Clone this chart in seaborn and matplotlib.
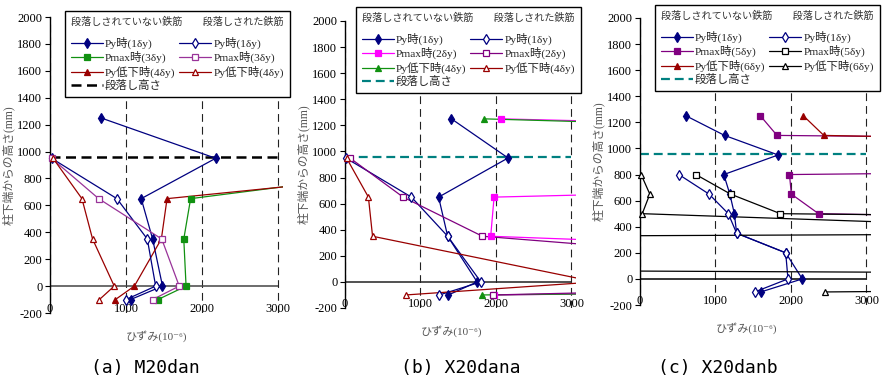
import numpy as np
import pandas as pd
import matplotlib
matplotlib.use('Agg')
import matplotlib.pyplot as plt
from matplotlib.lines import Line2D
import seaborn as sns

sns.set_theme(style='white')
FAM = ['Liberation Serif', 'Noto Sans CJK JP', 'DejaVu Sans']
plt.rcParams['font.family'] = FAM
plt.rcParams['axes.unicode_minus'] = False

nan = np.nan
# ---------------- data ----------------
heights_ab = [1250, 950, 650, 350, 0, -100]
heights_c = [1250, 1100, 950, 800, 650, 500, 350, 200, 0, -100]
dan_height = 960

# (a) M20dan
a_py_solid = [670, 2180, 1200, 1350, 1480, 1060]
a_pmax_solid = [nan, 6000, 1850, 1760, 1790, 1420]
a_low_solid = [nan, 6800, 1540, 1465, 1110, 860]
a_py_cut = [nan, 20, 880, 1280, 1390, 1000]
a_pmax_cut = [nan, 20, 640, 1470, 1700, 1350]
a_low_cut = [nan, 40, 420, 560, 845, 650]

# (b) X20dana
b_py_solid = [1410, 2160, 1240, 1360, 1750, 1370]
b_pmax_solid = [2060, 23500, 1975, 1930, 18400, 1970]
b_low_solid = [1840, 20000, nan, nan, 20000, 1810]
b_py_cut = [nan, 10, 880, 1360, 1800, 1250]
b_pmax_cut = [nan, 65, 770, 1820, 9400, 1960]
b_low_cut = [nan, 20, 310, 365, 3320, 805]

# (c) X20danb
c_py_solid = [610, 1120, 1830, 1110, 1190, 1250, 1280, 1930, 2150, 1600]
c_pmax_solid = [1595, 1815, 28000, 1980, 2005, 2365, 17000, nan, nan, nan]
c_low_solid = [2165, 2435, 15800, nan, nan, nan, nan, nan, nan, nan]
c_py_cut = [nan, nan, nan, 515, 915, 1170, 1280, 1930, 1960, 1520]
c_pmax_cut = [nan, nan, nan, 740, 1200, 1860, 27600, nan, nan, nan]
c_low_cut = [nan, nan, nan, 15, 130, 30, 7570, -53000, 22700, 2450]

header_solid = '段落しされていない鉄筋'
header_cut = '段落しされた鉄筋'
dan_label = '段落し高さ'
labels_a = ['Py時(1δy)', 'Pmax時(3δy)', 'Py低下時(4δy)']
labels_b = ['Py時(1δy)', 'Pmax時(2δy)', 'Py低下時(4δy)']
labels_c = ['Py時(1δy)', 'Pmax時(5δy)', 'Py低下時(6δy)']
captions = ['(a) M20dan', '(b) X20dana', '(c) X20danb']
xticks = [0, 1000, 2000, 3000]
yticks = list(range(-200, 2001, 200))

NAVY = '#000080'
GREEN = '#119111'
PURPLE_A = '#993399'
DRED = '#990000'
MAGENTA = '#FF00FF'
PURPLE = '#800080'
TEAL = '#008080'
BLACK = '#000000'

W, H = 883, 380
fig = plt.figure(figsize=(W / 100, H / 100), dpi=100)
fig.patch.set_facecolor('white')

# axes rectangles in px: left, top(2000), right(3060), bottom(-200)
boxes = [(50, 17, 282.6, 313), (345, 21, 576, 308), (640, 18, 871, 305)]
leg_boxes = [(65, 11), (356, 7), (655, 5)]
cap_x = [145, 461, 718]
XMAX = 3060

MS = {'d': 5.6, 's': 4.3, '^': 5.0}


def draw(ax, xs, ys, color, marker, filled):
    df = pd.DataFrame({'strain': xs, 'height': ys}).dropna()
    sns.lineplot(data=df, x='strain', y='height', sort=False, estimator=None,
                 ax=ax, color=color, lw=0.9, legend=False, zorder=3)
    vis = df[(df['strain'] >= 0) & (df['strain'] <= XMAX)]
    ax.plot(vis['strain'], vis['height'], linestyle='none', marker=marker,
            markersize=MS[marker], markerfacecolor=color if filled else 'white',
            markeredgecolor=color, markeredgewidth=0.9, clip_on=False, zorder=4)


def handle(color, marker, filled):
    return Line2D([], [], color=color, lw=0.9, marker=marker, markersize=MS[marker],
                  markerfacecolor=color if filled else 'white', markeredgecolor=color,
                  markeredgewidth=0.9)


panels = [
    dict(h=heights_ab,
         series=[(a_py_solid, NAVY, 'd', True), (a_pmax_solid, GREEN, 's', True),
                 (a_low_solid, DRED, '^', True), (a_py_cut, NAVY, 'd', False),
                 (a_pmax_cut, PURPLE_A, 's', False), (a_low_cut, DRED, '^', False)],
         labels=labels_a, dan_color=BLACK, dan_lw=1.8, zero_color='#444444'),
    dict(h=heights_ab,
         series=[(b_py_solid, NAVY, 'd', True), (b_pmax_solid, MAGENTA, 's', True),
                 (b_low_solid, GREEN, '^', True), (b_py_cut, NAVY, 'd', False),
                 (b_pmax_cut, PURPLE, 's', False), (b_low_cut, DRED, '^', False)],
         labels=labels_b, dan_color=TEAL, dan_lw=1.6, zero_color='#222222'),
    dict(h=heights_c,
         series=[(c_py_solid, NAVY, 'd', True), (c_pmax_solid, PURPLE, 's', True),
                 (c_low_solid, DRED, '^', True), (c_py_cut, NAVY, 'd', False),
                 (c_pmax_cut, BLACK, 's', False), (c_low_cut, BLACK, '^', False)],
         labels=labels_c, dan_color=TEAL, dan_lw=1.6, zero_color='#000000'),
]

for i, p in enumerate(panels):
    l, t, r, b = boxes[i]
    axw, axh = r - l, b - t
    ax = fig.add_axes([l / W, 1 - b / H, axw / W, axh / H])
    ax.set_facecolor('white')

    for xs, color, marker, filled in p['series']:
        draw(ax, xs, p['h'], color, marker, filled)

    # horizontal axis line at 0 and cut-off height
    ax.hlines(0, 0, xticks[-1], color=p['zero_color'], lw=1.1, zorder=2)
    ax.hlines(dan_height, 0, xticks[-1], color=p['dan_color'], lw=p['dan_lw'],
              linestyles=(0, (4, 2.2)), zorder=2.5)

    ax.set_xlim(0, XMAX)
    ax.set_ylim(-200, 2000)
    ax.set_xticks(xticks)
    ax.set_yticks(yticks)
    ax.xaxis.grid(True, color='#222222', lw=0.8, linestyle=(0, (7, 4.5)))
    ax.yaxis.grid(False)
    ax.set_axisbelow(True)
    for s in ['top', 'right', 'bottom']:
        ax.spines[s].set_visible(False)
    ax.spines['left'].set_color('black')
    ax.spines['left'].set_linewidth(1.0)
    ax.tick_params(axis='y', which='both', left=True, direction='out', length=3.5,
                   width=0.8, color='black', labelsize=9, pad=2, labelcolor='black')
    ax.tick_params(axis='x', which='both', bottom=False, length=0, labelsize=9,
                   pad=-7, labelcolor='black')

    ax.set_xlabel('ひずみ(10⁻⁶)', fontsize=8, color='#555555')
    ax.xaxis.set_label_coords(0.46, -17 / axh)
    ax.set_ylabel('柱下端からの高さ(mm)', fontsize=8.5, color='#555555')
    ax.yaxis.set_label_coords(-35 / axw, 0.5)

    # legend
    s = p['series']
    hs = [handle(*s[0][1:]), handle(*s[1][1:]), handle(*s[2][1:]),
          Line2D([], [], color=p['dan_color'], lw=p['dan_lw'], linestyle=(0, (4, 2.2))),
          handle(*s[3][1:]), handle(*s[4][1:]), handle(*s[5][1:]),
          Line2D([], [], color='none')]
    labs = p['labels'] + [dan_label] + p['labels'] + ['']
    lx, ly = leg_boxes[i]
    leg = ax.legend(hs, labs, ncol=2, loc='upper left',
                    bbox_to_anchor=(lx / W, 1 - ly / H), bbox_transform=fig.transFigure,
                    frameon=True, fancybox=False, framealpha=1, edgecolor='black',
                    fontsize=8.2, handlelength=2.8, handletextpad=0.2, columnspacing=0.35,
                    borderpad=0.5, labelspacing=0.2, borderaxespad=0,
                    title=header_solid + '\u3000\u3000' + header_cut + '\n',
                    title_fontproperties={'size': 7.3, 'family': FAM},
                    alignment='left')
    leg.get_frame().set_linewidth(1.0)
    leg.get_title().set_color('#333333')
    leg.get_title().set_linespacing(0.8)
    leg.set_zorder(10)

    fig.text(cap_x[i] / W, 1 - 368 / H, captions[i], ha='center', va='center',
             family='DejaVu Sans Mono', fontsize=13, color='black')

fig.savefig('out.png', dpi=100, facecolor='white')
